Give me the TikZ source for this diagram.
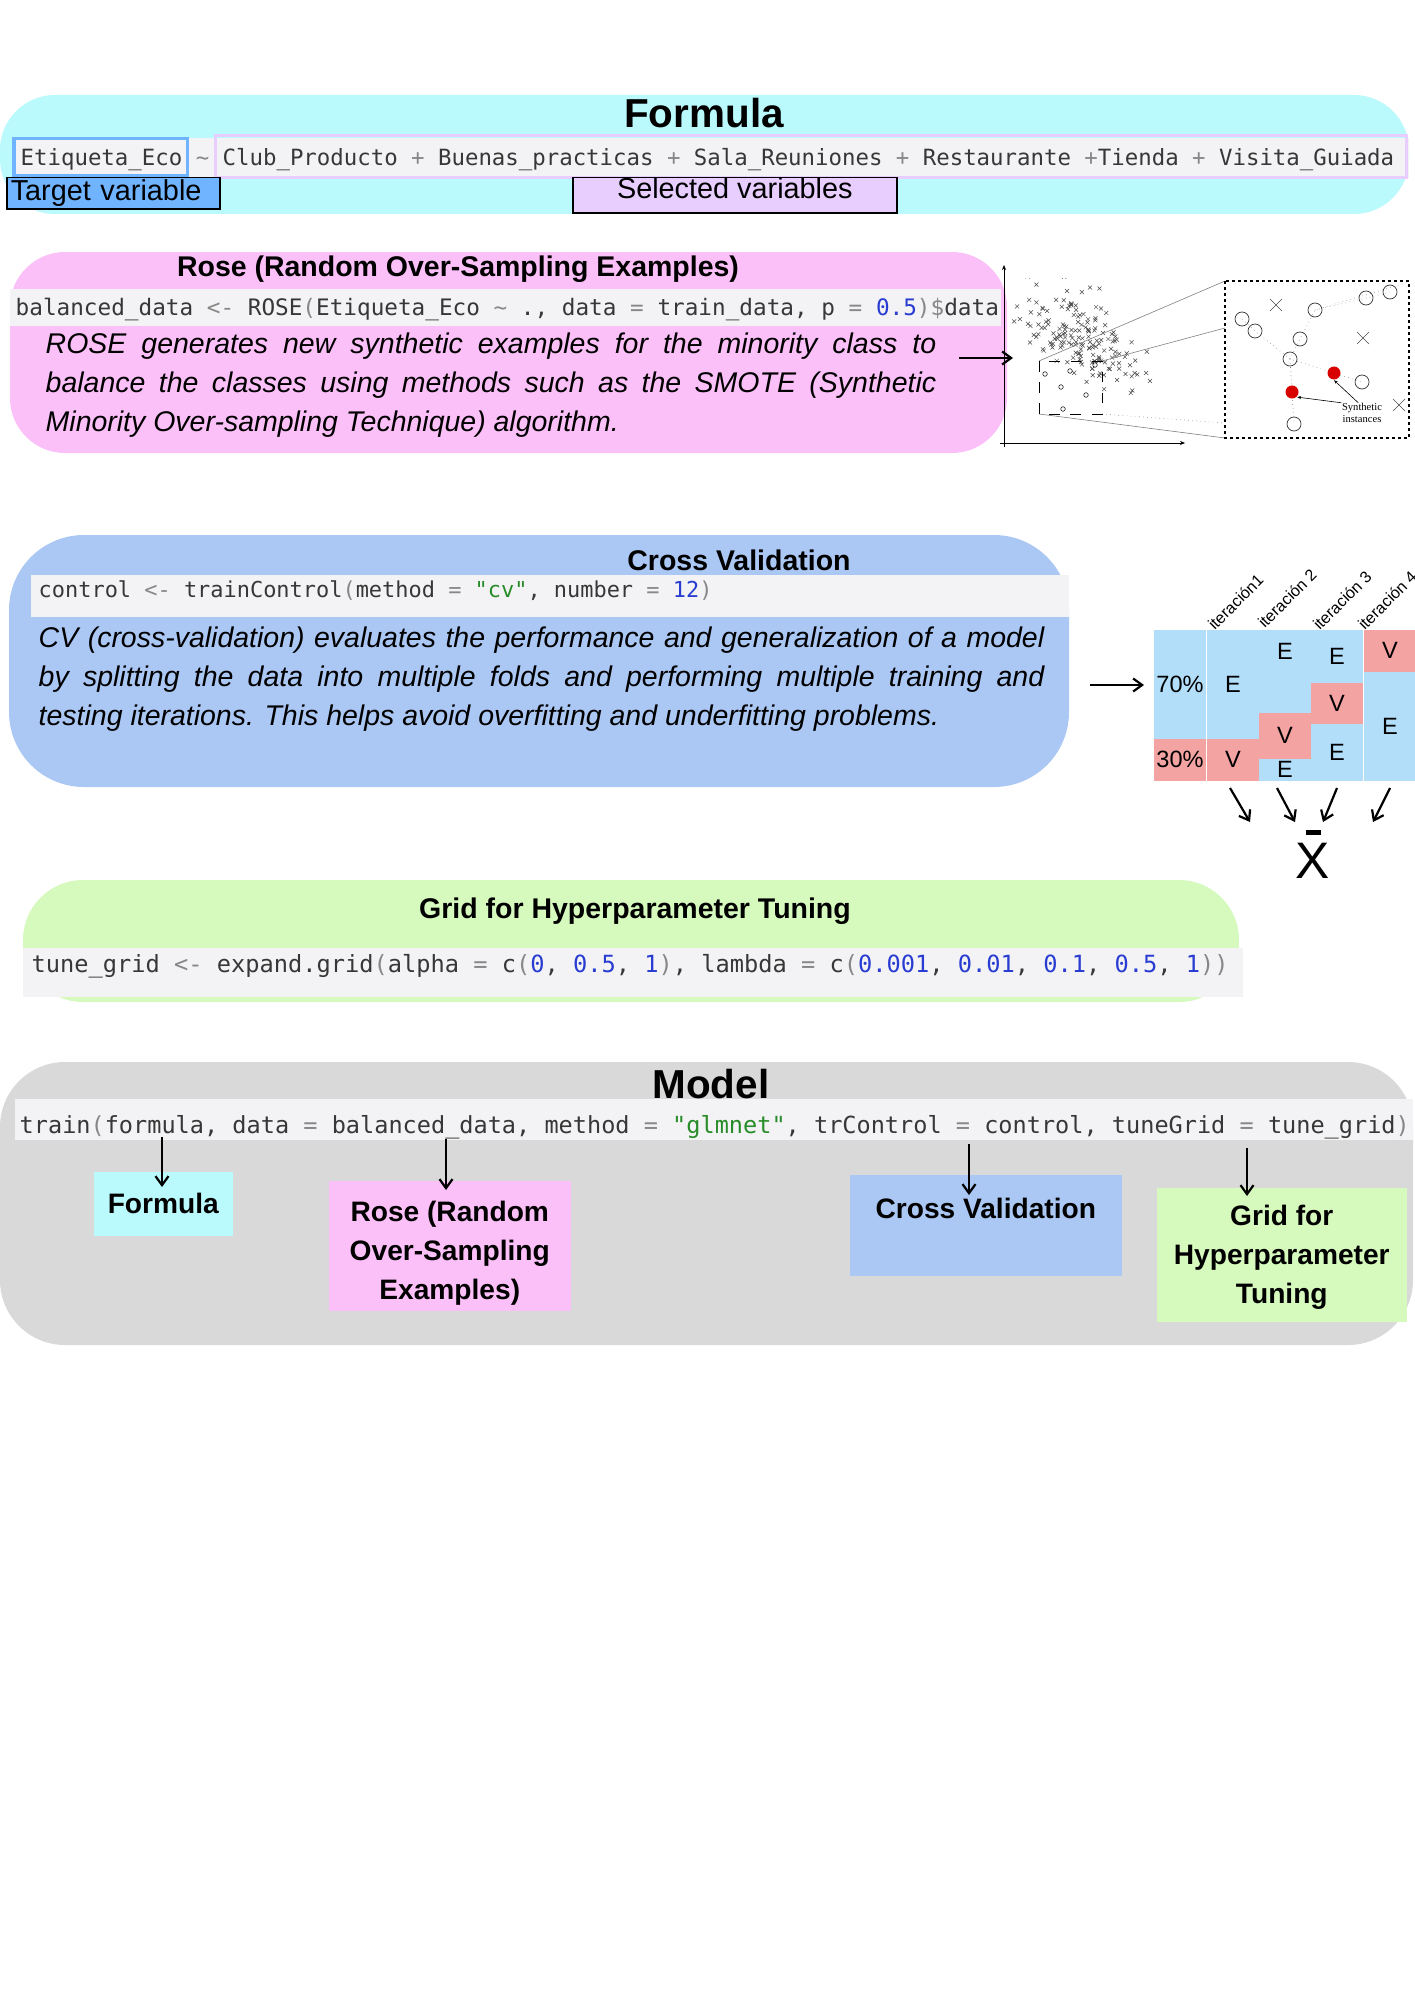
\documentclass[tikz,border=0pt]{standalone}
\usepackage{fontspec}
\setmainfont{Liberation Sans}
\setmonofont{DejaVu Sans Mono}
\newfontfamily\notefont{Liberation Serif}
\usepackage{xcolor}
\usetikzlibrary{arrows.meta,positioning,calc}

\definecolor{formcyan}{RGB}{186,250,253}
\definecolor{rosepink}{RGB}{252,192,248}
\definecolor{cvblue}{RGB}{171,199,244}
\definecolor{gridgreen}{RGB}{214,250,190}
\definecolor{modelgray}{RGB}{217,217,217}
\definecolor{codebg}{RGB}{243,243,245}
\definecolor{codetext}{RGB}{55,55,55}
\definecolor{codeop}{RGB}{135,135,135}
\definecolor{codenum}{RGB}{40,60,210}
\definecolor{codestr}{RGB}{40,140,40}
\definecolor{targetblue}{RGB}{112,180,255}
\definecolor{selectlav}{RGB}{232,206,255}
\definecolor{cellblue}{RGB}{178,222,250}
\definecolor{cellred}{RGB}{244,163,163}

\newcommand{\cop}[1]{\textcolor{codeop}{#1}}
\newcommand{\cnum}[1]{\textcolor{codenum}{#1}}
\newcommand{\cstr}[1]{\textcolor{codestr}{#1}}

\begin{document}
\begin{tikzpicture}[
    x=0.01cm, y=-0.01cm,
    bigtitle/.style={font=\bfseries\fontsize{11.5}{13}\selectfont, inner sep=0, anchor=base},
    sectitle/.style={font=\bfseries\fontsize{8.1}{10}\selectfont, inner sep=0, anchor=base},
    codetxt/.style={font=\ttfamily\fontsize{#1}{#1}\selectfont, text=codetext, inner sep=0, anchor=base west},
    desc/.style={font=\itshape\fontsize{8.1}{11.1}\selectfont, align=justify, inner sep=0, anchor=north west},
    tagbox/.style={draw=black, line width=0.015cm, inner sep=0, anchor=north west, font=\fontsize{8.2}{10}\selectfont},
    refbox/.style={inner sep=0, anchor=north west, align=center, font=\bfseries\fontsize{8}{11.1}\selectfont},
    cell/.style={inner sep=0, anchor=north west, minimum width=0.525cm, font=\fontsize{6.7}{8}\selectfont},
    iterlab/.style={font=\fontsize{4.6}{5}\selectfont, inner sep=0, anchor=south west, rotate=45},
    arr/.style={-{Straight Barb[length=0.09cm,width=0.13cm]}, line width=0.022cm},
    thinarr/.style={-{Stealth[length=0.04cm,width=0.03cm]}, line width=0.006cm},
    xmk/.style={line width=0.005cm, black!70}
]
\useasboundingbox (0,0) rectangle (1414,2000);
\fill[white] (0,0) rectangle (1414,2000);

% 数式
\fill[formcyan, rounded corners=0.55cm] (0,95) rectangle (1409,214);
\node[bigtitle] (ftitle) at (704,128) {Formula};
\fill[codebg] (13,138) rectangle (1409,178);
\draw[targetblue, line width=0.03cm] (14,139) rectangle (187,176);
\draw[selectlav, line width=0.03cm] (215,136) rectangle (1406,178);
\node[codetxt=6.36] (fcode) at (20,166) {Etiqueta\_Eco \cop{\textasciitilde} Club\_Producto \cop{+} Buenas\_practicas \cop{+} Sala\_Reuniones \cop{+} Restaurante \cop{+}Tienda \cop{+} Visita\_Guiada};
\node[tagbox, fill=targetblue, minimum width=2.13cm, minimum height=0.31cm, text width=2.05cm, align=left] (target) at (6,177) {Target variable};
\node[tagbox, fill=selectlav, minimum width=3.24cm, minimum height=0.31cm, text height=0.21cm, text depth=0.14cm] (selected) at (572,177) {Selected variables};

% ROSE
\fill[rosepink, rounded corners=0.55cm] (10,252) rectangle (1007,453);
\node[sectitle] (rtitle) at (458,277) {Rose (Random Over-Sampling Examples)};
\fill[codebg] (10,289) rectangle (1001,326);
\node[codetxt=6.45] (rcode) at (15,315) {balanced\_data \cop{<-} ROSE\cop{(}Etiqueta\_Eco \cop{\textasciitilde} ., data \cop{=} train\_data, p \cop{=} \cnum{0.5}\cop{)\$}data};
\node[desc, text width=8.9cm] (rdesc) at (45,332) {ROSE generates new synthetic examples for the minority class to\linebreak balance the classes using methods such as the SMOTE (Synthetic\linebreak Minority Over-sampling Technique) algorithm.};
\coordinate (rarrs) at (959,358);
\coordinate (rarre) at (1013,358);
\draw[arr] (rarrs) -- (rarre);

% SMOTE の図
\draw[-{Stealth[length=0.05cm,width=0.04cm]}, line width=0.006cm] (1004,447) -- (1004,265);
\draw[-{Stealth[length=0.05cm,width=0.04cm]}, line width=0.006cm] (1000,443) -- (1185,443);
\begin{scope}
    \clip (1012,278) rectangle (1168,436);
    \pgfmathsetseed{21}
    \foreach \i in {1,...,170}{
        \pgfmathsetmacro\uu{rand+rand+rand}
        \pgfmathsetmacro\vv{rand+rand+rand}
        \pgfmathsetmacro\xx{1080+26*\uu}
        \pgfmathsetmacro\yy{336+13*\uu+21*\vv}
        \draw[xmk] (\xx-2,\yy-2) -- (\xx+2,\yy+2) (\xx-2,\yy+2) -- (\xx+2,\yy-2);
    }
\end{scope}
\foreach \p in {(1045,374),(1070,371),(1095,365),(1061,387),(1086,395),(1063,409)}
    \draw[line width=0.005cm] \p circle[radius=2.3];
\draw[gray, line width=0.006cm] (1039,361) -- (1225,281);
\draw[gray, line width=0.006cm] (1102,361) -- (1225,328);
\draw[gray, line width=0.006cm] (1039,414) -- (1225,438);
\draw[gray, densely dotted, line width=0.006cm] (1102,414) -- (1225,423);
\draw[dashed, line width=0.008cm] (1039,361) rectangle (1102,414);
\draw[line width=0.013cm, dash pattern=on 0.03cm off 0.03cm] (1225,281) rectangle (1409,438);
\draw[gray, densely dotted, line width=0.006cm] (1242,319) -- (1255,331) -- (1290,359) -- (1334,373) -- (1362,382);
\draw[gray, densely dotted, line width=0.006cm] (1290,359) -- (1300,339) -- (1315,310) -- (1366,298) -- (1390,292);
\draw[gray, densely dotted, line width=0.006cm] (1290,359) -- (1292,392) -- (1294,424);
\draw[gray, densely dotted, line width=0.006cm] (1315,310) -- (1409,282);
\foreach \p in {(1242,319),(1255,331),(1315,310),(1300,339),(1290,359),(1366,298),(1390,292),(1362,382),(1294,424)}
    \draw[line width=0.007cm, black!80] \p circle[radius=7];
\foreach \p in {(1276,305),(1363,338),(1399,405)}
    \draw[line width=0.006cm, black!70, shift={\p}] (-6,-6) -- (6,6) (-6,6) -- (6,-6);
\node[circle, fill=red!85!black, inner sep=0, minimum size=0.13cm] (rd1) at (1334,373) {};
\node[circle, fill=red!85!black, inner sep=0, minimum size=0.13cm] (rd2) at (1292,392) {};
\node[font=\notefont\fontsize{3}{3.3}\selectfont, align=center, inner sep=0] (synlab) at (1362,413) {Synthetic\\instances};
\draw[thinarr] (synlab.north west) -- (rd2.south east);
\draw[thinarr] (synlab.110) -- (rd1.south);

% 交差検証
\fill[cvblue, rounded corners=0.75cm] (9,535) rectangle (1069,787);
\fill[codebg] (31,575) rectangle (1069,617);
\node[sectitle] (cvtitle) at (739,570) {Cross Validation};
\node[codetxt=6.24] (cvcode) at (38,597) {control \cop{<-} trainControl\cop{(}method \cop{=} \cstr{"cv"}, number \cop{=} \cnum{12}\cop{)}};
\node[desc, text width=10.05cm] (cvdesc) at (38,626) {CV (cross-validation) evaluates the performance and generalization of a model\linebreak by splitting the data into multiple folds and performing multiple training and\linebreak testing iterations. This helps avoid overfitting and underfitting problems.};
\coordinate (cvarrs) at (1090,685);
\coordinate (cvarre) at (1144,685);
\draw[arr] (cvarrs) -- (cvarre);

% 分割表
\node[cell, fill=cellblue, minimum height=1.09cm] (k0a) at (1153,629) {70\%};
\node[cell, fill=cellred, minimum height=0.42cm] (k0b) at (1153,738) {30\%};
\node[cell, fill=cellblue, minimum height=1.09cm] (k1a) at (1206,629) {E};
\node[cell, fill=cellred, minimum height=0.42cm] (k1b) at (1206,738) {V};
\node[cell, fill=cellblue, minimum height=0.83cm, text height=0.17cm, text depth=0.41cm] (k2a) at (1258,629) {E};
\node[cell, fill=cellred, minimum height=0.46cm] (k2b) at (1258,712) {V};
\node[cell, fill=cellblue, minimum height=0.22cm] (k2c) at (1258,758) {E};
\node[cell, fill=cellblue, minimum height=0.53cm] (k3a) at (1310,629) {E};
\node[cell, fill=cellred, minimum height=0.41cm] (k3b) at (1310,682) {V};
\node[cell, fill=cellblue, minimum height=0.57cm] (k3c) at (1310,723) {E};
\node[cell, fill=cellred, minimum height=0.42cm] (k4a) at (1363,629) {V};
\node[cell, fill=cellblue, minimum height=1.09cm] (k4b) at (1363,671) {E};
\node[iterlab] (it1) at (1215,632) {iteración1};
\node[iterlab] (it2) at (1265,630) {iteración 2};
\node[iterlab] (it3) at (1320,632) {iteración 3};
\node[iterlab] (it4) at (1365,632) {iteración 4};

% 平均
\node[font=\fontsize{14.6}{16}\selectfont, inner sep=0] (xbar) at (1313,861) {X};
\draw[line width=0.05cm] ($(xbar.north)+(-7,-10)$) -- ($(xbar.north)+(8,-10)$);
\coordinate (v1s) at (1230,788); \coordinate (v1e) at (1250,822);
\coordinate (v2s) at (1277,788); \coordinate (v2e) at (1295,822);
\coordinate (v3s) at (1337,788); \coordinate (v3e) at (1323,822);
\coordinate (v4s) at (1390,788); \coordinate (v4e) at (1373,822);
\draw[arr] (v1s) -- (v1e);
\draw[arr] (v2s) -- (v2e);
\draw[arr] (v3s) -- (v3e);
\draw[arr] (v4s) -- (v4e);

% グリッド
\fill[gridgreen, rounded corners=0.6cm] (23,880) rectangle (1239,1002);
\node[sectitle] (gtitle) at (635,918) {Grid for Hyperparameter Tuning};
\fill[codebg] (23,948) rectangle (1243,997);
\node[codetxt=6.73] (gcode) at (31,972) {tune\_grid \cop{<-} expand.grid\cop{(}alpha \cop{=} c\cop{(}\cnum{0}, \cnum{0.5}, \cnum{1}\cop{)}, lambda \cop{=} c\cop{(}\cnum{0.001}, \cnum{0.01}, \cnum{0.1}, \cnum{0.5}, \cnum{1}\cop{))}};

% モデル
\fill[modelgray, rounded corners=0.65cm] (0,1062) rectangle (1413,1345);
\node[bigtitle] (mtitle) at (711,1098) {Model};
\fill[codebg] (15,1099) rectangle (1413,1140);
\node[codetxt=6.70] (mcode) at (19,1133) {train\cop{(}formula, data \cop{=} balanced\_data, method \cop{=} \cstr{"glmnet"}, trControl \cop{=} control, tuneGrid \cop{=} tune\_grid\cop{)}};
\node[refbox, fill=formcyan, minimum width=1.39cm, minimum height=0.64cm] (mform) at (93,1171) {Formula};
\node[refbox, fill=rosepink, minimum width=2.42cm, minimum height=1.30cm] (mrose) at (328,1180) {\rule{0pt}{0.36cm}Rose (Random\\Over-Sampling\\Examples)};
\node[refbox, fill=cvblue, minimum width=2.72cm, minimum height=1.01cm, text height=0.2cm, text depth=0.33cm] (mcv) at (849,1174) {Cross Validation};
\node[refbox, fill=gridgreen, minimum width=2.50cm, minimum height=1.34cm] (mgrid) at (1156,1187) {\rule{0pt}{0.25cm}Grid for\\Hyperparameter\\Tuning};
\coordinate (pform) at (162,1137);
\coordinate (prose) at (446,1139);
\coordinate (pcv) at (969,1144);
\coordinate (pgrid) at (1247,1148);
\draw[arr, shorten >=-0.16cm] (pform) -- (pform |- mform.north);
\draw[arr, shorten >=-0.10cm] (prose) -- (prose |- mrose.north);
\draw[arr, shorten >=-0.21cm] (pcv) -- (pcv |- mcv.north);
\draw[arr, shorten >=-0.09cm] (pgrid) -- (pgrid |- mgrid.north);

\end{tikzpicture}
\end{document}
